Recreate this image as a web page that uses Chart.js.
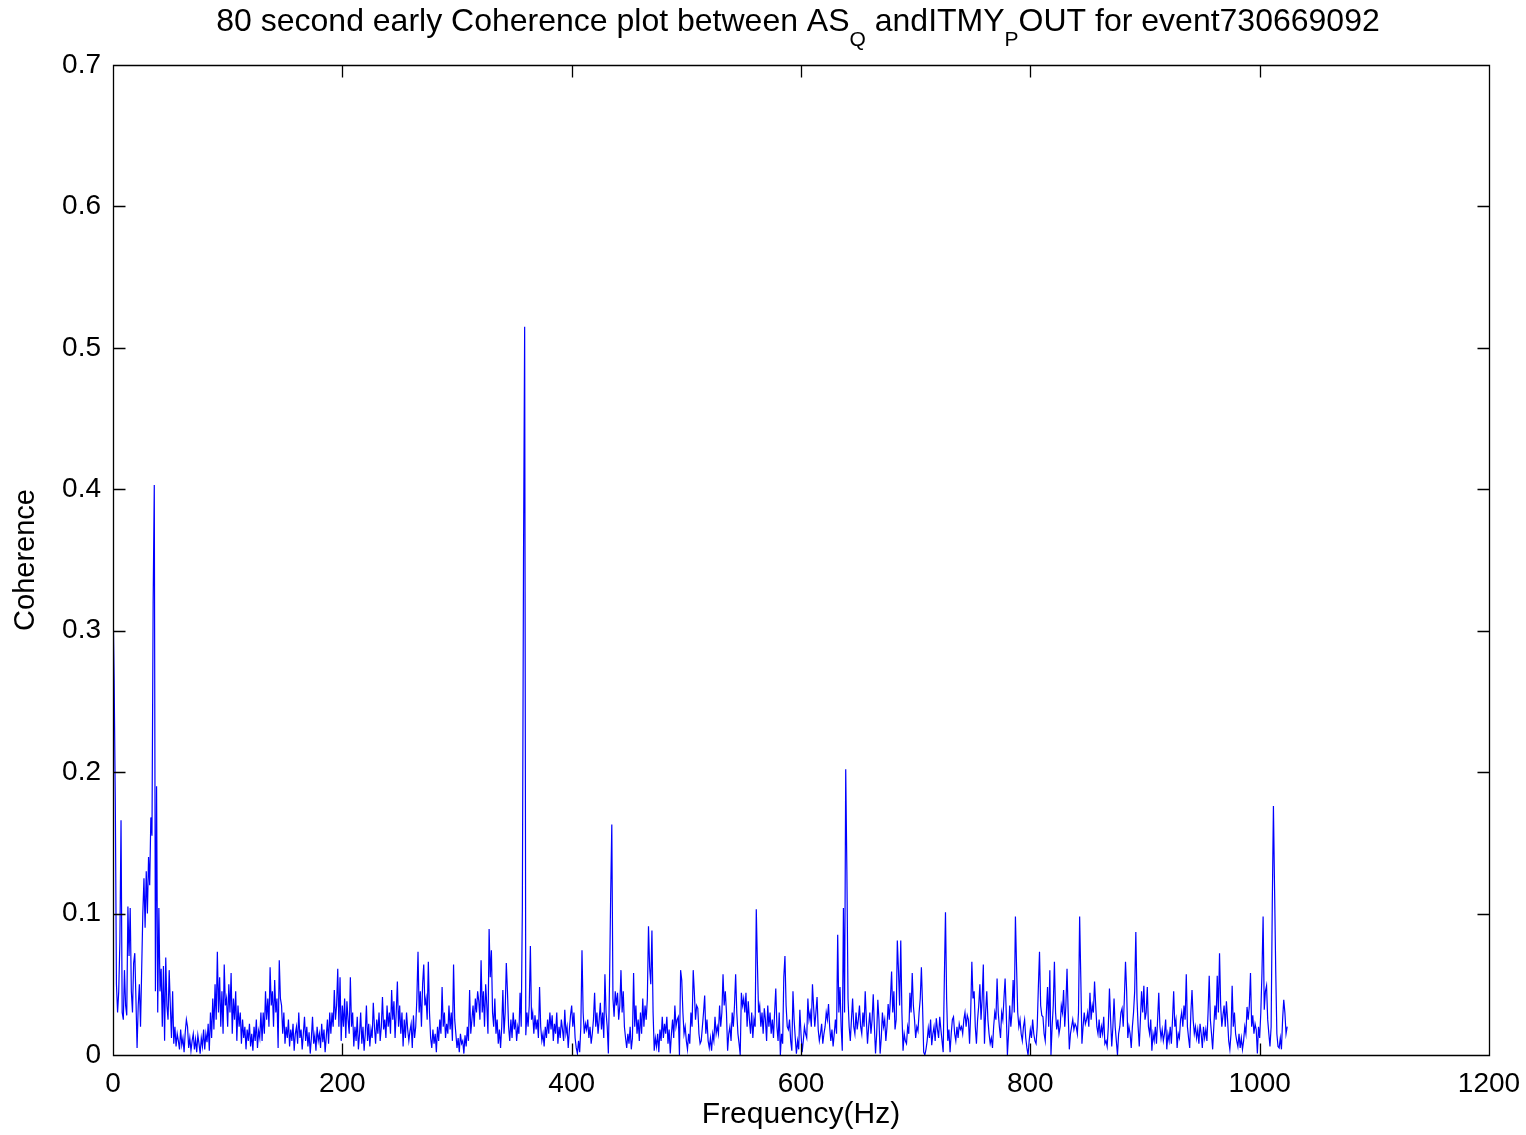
<!DOCTYPE html>
<html>
<head>
<meta charset="utf-8">
<script src="https://cdn.jsdelivr.net/npm/chart.js@4.4.1/dist/chart.umd.min.js"></script>
<style>
  html, body { margin: 0; padding: 0; background: #ffffff; }
  #wrap { width: 1526px; height: 1135px; }
</style>
</head>
<body>
<div id="wrap"><canvas id="c" width="1526" height="1135"></canvas></div>
<script>
// Coherence spectrum, one value per 1 Hz bin from 0 Hz to 1024 Hz
const freqStepHz = 1;
const coherence = [
  0.323,0.265,0.18,0.05,0.03,0.045,0.08,0.166,0.03,0.025,        // 0
  0.06,0.035,0.028,0.105,0.07,0.104,0.045,0.03,0.065,0.072,      // 10
  0.04,0.005,0.035,0.05,0.02,0.06,0.1,0.125,0.09,0.13,           // 20
  0.1,0.14,0.12,0.168,0.155,0.32,0.403,0.045,0.19,0.03,          // 30
  0.104,0.045,0.061,0.02,0.063,0.01,0.069,0.035,0.025,0.06,      // 40
  0.035,0.012,0.045,0.008,0.02,0.006,0.015,0.01,0.004,0.018,     // 50
  0.007,0.012,0.002,0.016,0.025,0.02,0.005,0.012,0.003,0.01,     // 60
  0.015,0.004,0.011,0.002,0.014,0.008,0.001,0.012,0.006,0.018,   // 70
  0.004,0.015,0.009,0.022,0.003,0.03,0.012,0.04,0.018,0.05,      // 80
  0.025,0.073,0.03,0.055,0.02,0.045,0.015,0.064,0.035,0.04,      // 90
  0.02,0.05,0.03,0.058,0.015,0.04,0.025,0.045,0.01,0.035,        // 100
  0.02,0.03,0.008,0.025,0.012,0.02,0.004,0.018,0.01,0.022,       // 110
  0.006,0.015,0.003,0.02,0.01,0.025,0.005,0.017,0.012,0.03,      // 120
  0.01,0.03,0.015,0.045,0.025,0.04,0.02,0.062,0.035,0.045,       // 130
  0.02,0.053,0.03,0.04,0.005,0.067,0.04,0.035,0.015,0.03,        // 140
  0.008,0.02,0.012,0.025,0.006,0.018,0.01,0.022,0.003,0.015,     // 150
  0.02,0.008,0.03,0.012,0.018,0.004,0.015,0.027,0.01,0.02,       // 160
  0.006,0.016,0.001,0.012,0.027,0.008,0.014,0.003,0.02,0.01,     // 170
  0.015,0.005,0.022,0.009,0.018,0.002,0.013,0.025,0.008,0.03,    // 180
  0.015,0.03,0.02,0.046,0.025,0.035,0.061,0.02,0.055,0.01,       // 190
  0.035,0.02,0.04,0.012,0.038,0.025,0.015,0.055,0.02,0.03,       // 200
  0.006,0.02,0.01,0.027,0.004,0.015,0.03,0.008,0.02,0.003,       // 210
  0.015,0.035,0.01,0.022,0.006,0.018,0.012,0.037,0.02,0.008,     // 220
  0.025,0.015,0.03,0.01,0.02,0.041,0.018,0.025,0.012,0.035,      // 230
  0.02,0.03,0.015,0.046,0.025,0.038,0.012,0.03,0.052,0.02,       // 240
  0.035,0.015,0.03,0.006,0.025,0.012,0.03,0.018,0.01,0.017,      // 250
  0.022,0.005,0.028,0.012,0.02,0.04,0.073,0.03,0.045,0.02,       // 260
  0.05,0.064,0.035,0.04,0.025,0.066,0.03,0.012,0.005,0.018,      // 270
  0.008,0.015,0.002,0.02,0.01,0.025,0.015,0.048,0.02,0.03,       // 280
  0.012,0.022,0.015,0.035,0.018,0.03,0.01,0.064,0.025,0.015,     // 290
  0.005,0.012,0.002,0.015,0.008,0.01,0.001,0.014,0.006,0.02,     // 300
  0.01,0.046,0.015,0.025,0.035,0.02,0.04,0.03,0.045,0.038,       // 310
  0.025,0.067,0.03,0.045,0.02,0.05,0.035,0.015,0.089,0.055,      // 320
  0.074,0.03,0.02,0.04,0.015,0.025,0.008,0.018,0.005,0.02,       // 330
  0.046,0.015,0.03,0.065,0.045,0.02,0.01,0.025,0.012,0.03,       // 340
  0.018,0.025,0.01,0.02,0.015,0.044,0.02,0.104,0.35,0.515,       // 350
  0.014,0.03,0.02,0.035,0.077,0.025,0.03,0.015,0.028,0.018,      // 360
  0.025,0.012,0.048,0.02,0.01,0.015,0.006,0.02,0.012,0.025,      // 370
  0.015,0.03,0.018,0.028,0.01,0.022,0.015,0.03,0.008,0.02,       // 380
  0.012,0.025,0.018,0.01,0.032,0.015,0.02,0.005,0.018,0.028,     // 390
  0.035,0.02,0.03,0.012,0.005,0.001,0.01,0.002,0.02,0.074,       // 400
  0.03,0.015,0.022,0.018,0.025,0.012,0.02,0.008,0.015,0.025,     // 410
  0.044,0.02,0.03,0.015,0.025,0.037,0.018,0.03,0.012,0.057,      // 420
  0.03,0.02,0.001,0.05,0.112,0.163,0.04,0.027,0.045,0.035,       // 430
  0.044,0.025,0.035,0.06,0.03,0.045,0.02,0.012,0.005,0.015,      // 440
  0.008,0.02,0.004,0.012,0.058,0.02,0.035,0.015,0.025,0.01,      // 450
  0.03,0.015,0.04,0.02,0.035,0.025,0.04,0.091,0.062,0.05,        // 460
  0.088,0.03,0.003,0.012,0.006,0.015,0.002,0.018,0.01,0.027,     // 470
  0.012,0.022,0.015,0.027,0.008,0.018,0.001,0.015,0.025,0.012,   // 480
  0.035,0.02,0.025,0.027,0.0,0.06,0.053,0.03,0.015,0.02,         // 490
  0.01,0.004,0.015,0.008,0.03,0.02,0.06,0.044,0.025,0.035,       // 500
  0.033,0.015,0.008,0.01,0.02,0.03,0.042,0.015,0.025,0.01,       // 510
  0.005,0.012,0.003,0.015,0.01,0.027,0.015,0.02,0.015,0.035,     // 520
  0.02,0.03,0.057,0.035,0.045,0.03,0.003,0.015,0.02,0.01,        // 530
  0.03,0.02,0.035,0.057,0.03,0.015,0.008,0.0,0.044,0.035,        // 540
  0.04,0.03,0.044,0.02,0.038,0.025,0.015,0.03,0.012,0.025,       // 550
  0.02,0.103,0.064,0.03,0.035,0.02,0.03,0.015,0.033,0.025,       // 560
  0.01,0.035,0.02,0.03,0.015,0.025,0.012,0.03,0.047,0.02,        // 570
  0.01,0.03,0.0,0.015,0.008,0.055,0.07,0.035,0.02,0.018,         // 580
  0.025,0.01,0.003,0.045,0.025,0.012,0.001,0.01,0.004,0.032,     // 590
  0.015,0.002,0.01,0.02,0.015,0.012,0.04,0.025,0.03,0.02,        // 600
  0.05,0.034,0.02,0.03,0.041,0.018,0.01,0.015,0.022,0.008,       // 610
  0.015,0.02,0.03,0.025,0.036,0.02,0.01,0.018,0.006,0.015,       // 620
  0.025,0.015,0.085,0.03,0.048,0.02,0.003,0.104,0.03,0.202,      // 630
  0.131,0.04,0.02,0.01,0.025,0.04,0.02,0.015,0.03,0.018,         // 640
  0.025,0.035,0.02,0.015,0.03,0.02,0.045,0.025,0.008,0.02,       // 650
  0.03,0.015,0.025,0.043,0.02,0.001,0.015,0.039,0.025,0.001,     // 660
  0.012,0.03,0.02,0.025,0.01,0.02,0.036,0.025,0.04,0.059,        // 670
  0.03,0.045,0.018,0.025,0.081,0.06,0.035,0.081,0.03,0.003,      // 680
  0.015,0.01,0.008,0.02,0.015,0.044,0.03,0.058,0.035,0.025,      // 690
  0.012,0.02,0.017,0.03,0.04,0.062,0.035,0.002,0.0,0.004,        // 700
  0.01,0.019,0.012,0.025,0.007,0.015,0.02,0.01,0.026,0.018,      // 710
  0.012,0.027,0.018,0.01,0.002,0.053,0.101,0.04,0.01,0.018,      // 720
  0.002,0.015,0.025,0.027,0.015,0.01,0.02,0.012,0.022,0.018,     // 730
  0.02,0.015,0.025,0.03,0.02,0.028,0.025,0.008,0.03,0.066,       // 740
  0.04,0.045,0.02,0.008,0.025,0.035,0.05,0.025,0.04,0.064,       // 750
  0.008,0.03,0.045,0.025,0.015,0.008,0.012,0.005,0.02,0.03,      // 760
  0.025,0.054,0.03,0.02,0.012,0.03,0.025,0.04,0.054,0.03,        // 770
  0.0,0.015,0.035,0.02,0.03,0.053,0.03,0.098,0.062,0.03,         // 780
  0.02,0.025,0.015,0.01,0.02,0.025,0.012,0.005,0.0,0.01,         // 790
  0.018,0.012,0.025,0.015,0.01,0.008,0.02,0.048,0.073,0.035,     // 800
  0.028,0.027,0.015,0.01,0.03,0.048,0.02,0.06,0.0,0.02,          // 810
  0.035,0.066,0.03,0.018,0.025,0.015,0.02,0.035,0.03,0.046,      // 820
  0.02,0.035,0.061,0.03,0.004,0.015,0.02,0.025,0.018,0.022,      // 830
  0.02,0.015,0.03,0.098,0.055,0.008,0.02,0.03,0.022,0.025,       // 840
  0.03,0.02,0.044,0.025,0.035,0.03,0.052,0.035,0.02,0.015,       // 850
  0.025,0.012,0.02,0.015,0.027,0.008,0.01,0.006,0.02,0.047,      // 860
  0.025,0.006,0.02,0.04,0.02,0.01,0.0,0.015,0.02,0.03,           // 870
  0.033,0.02,0.04,0.066,0.045,0.012,0.02,0.015,0.005,0.02,       // 880
  0.03,0.045,0.087,0.04,0.02,0.006,0.025,0.045,0.03,0.049,       // 890
  0.025,0.03,0.048,0.02,0.015,0.025,0.003,0.015,0.01,0.02,       // 900
  0.008,0.025,0.044,0.02,0.012,0.018,0.01,0.015,0.025,0.004,     // 910
  0.015,0.01,0.02,0.008,0.025,0.045,0.02,0.025,0.005,0.015,      // 920
  0.012,0.025,0.03,0.02,0.035,0.025,0.057,0.02,0.012,0.005,      // 930
  0.03,0.046,0.025,0.015,0.02,0.012,0.018,0.008,0.022,0.015,     // 940
  0.005,0.02,0.012,0.018,0.01,0.03,0.056,0.025,0.015,0.004,      // 950
  0.02,0.035,0.025,0.056,0.03,0.072,0.035,0.02,0.028,0.035,      // 960
  0.02,0.038,0.025,0.01,0.004,0.015,0.049,0.02,0.03,0.015,       // 970
  0.01,0.006,0.015,0.005,0.012,0.004,0.01,0.02,0.015,0.034,      // 980
  0.025,0.035,0.058,0.02,0.028,0.015,0.022,0.018,0.001,0.02,     // 990
  0.012,0.03,0.058,0.098,0.032,0.045,0.049,0.025,0.015,0.006,    // 1000
  0.02,0.106,0.176,0.117,0.06,0.015,0.006,0.005,0.012,0.004,     // 1010
  0.025,0.039,0.03,0.015,0.02                                    // 1020
];

// Axis ticks
const xTickValues = [0, 200, 400, 600, 800, 1000, 1200];
const yTickValues = [0, 0.1, 0.2, 0.3, 0.4, 0.5, 0.6, 0.7];

// Text
const titleParts = [
  { text: '80 second early Coherence plot between AS', sub: false },
  { text: 'Q', sub: true },
  { text: ' andITMY', sub: false },
  { text: 'P', sub: true },
  { text: 'OUT for event730669092', sub: false }
];
const xAxisTitle = 'Frequency(Hz)';
const yAxisTitle = 'Coherence';

const FONT = '"Liberation Sans", Arial, Helvetica, sans-serif';
const points = coherence.map((c, i) => ({ x: i * freqStepHz, y: c }));

// Boxed axes with inward ticks on all four sides, plus a title with subscripts
const framePlugin = {
  id: 'frame',
  afterDraw(chart) {
    const ctx = chart.ctx;
    const a = chart.chartArea;
    const xs = chart.scales.x, ys = chart.scales.y;
    const L = Math.round(a.left) + 0.5, R = Math.round(a.right) + 0.5;
    const T = Math.round(a.top) + 0.5, B = Math.round(a.bottom) + 0.5;
    const tick = 12;
    ctx.save();
    ctx.strokeStyle = '#000';
    ctx.lineWidth = 1.3;
    ctx.beginPath();
    ctx.rect(L, T, R - L, B - T);
    xs.ticks.forEach(t => {
      const px = Math.round(xs.getPixelForValue(t.value)) + 0.5;
      ctx.moveTo(px, B); ctx.lineTo(px, B - tick);
      ctx.moveTo(px, T); ctx.lineTo(px, T + tick);
    });
    ys.ticks.forEach(t => {
      const py = Math.round(ys.getPixelForValue(t.value)) + 0.5;
      ctx.moveTo(L, py); ctx.lineTo(L + tick, py);
      ctx.moveTo(R, py); ctx.lineTo(R - tick, py);
    });
    ctx.stroke();

    // Title
    const mainFont = '32px ' + FONT;
    const subFont = '21px ' + FONT;
    let total = 0;
    const widths = titleParts.map(p => {
      ctx.font = p.sub ? subFont : mainFont;
      const w = ctx.measureText(p.text).width;
      total += w;
      return w;
    });
    let x = 798 - total / 2;
    const base = 31;
    ctx.fillStyle = '#000';
    ctx.textBaseline = 'alphabetic';
    ctx.textAlign = 'left';
    titleParts.forEach((p, i) => {
      ctx.font = p.sub ? subFont : mainFont;
      ctx.fillText(p.text, x, p.sub ? base + 15 : base);
      x += widths[i];
    });
    ctx.restore();
  }
};

new Chart(document.getElementById('c'), {
  type: 'line',
  data: {
    datasets: [{
      data: points,
      borderColor: '#0000ff',
      borderWidth: 1.2,
      pointRadius: 0,
      tension: 0,
      fill: false
    }]
  },
  plugins: [framePlugin],
  options: {
    responsive: false,
    animation: false,
    layout: { padding: { top: 65, right: 37, left: 0, bottom: 0 } },
    plugins: {
      legend: { display: false },
      title: { display: false },
      tooltip: { enabled: false }
    },
    scales: {
      x: {
        type: 'linear',
        min: 0,
        max: 1200,
        afterBuildTicks: s => { s.ticks = xTickValues.map(v => ({ value: v })); },
        afterFit: s => { s.height = 80; s.paddingLeft = 0; s.paddingRight = 0; },
        grid: { display: false, drawTicks: false },
        border: { display: false },
        ticks: {
          color: '#000',
          font: { family: FONT, size: 28 },
          padding: 12,
          maxRotation: 0,
          callback: v => String(v)
        },
        title: {
          display: true,
          text: xAxisTitle,
          color: '#000',
          font: { family: FONT, size: 30 },
          padding: { top: 0, bottom: 2 }
        }
      },
      y: {
        type: 'linear',
        min: 0,
        max: 0.7,
        afterBuildTicks: s => { s.ticks = yTickValues.map(v => ({ value: v })); },
        afterFit: s => { s.width = 113; },
        grid: { display: false, drawTicks: false },
        border: { display: false },
        ticks: {
          color: '#000',
          font: { family: FONT, size: 28 },
          padding: 12,
          callback: v => String(Math.round(v * 10) / 10)
        },
        title: {
          display: true,
          text: yAxisTitle,
          color: '#000',
          font: { family: FONT, size: 29 },
          padding: { top: 9, bottom: 0 }
        }
      }
    }
  }
});
</script>
</body>
</html>
